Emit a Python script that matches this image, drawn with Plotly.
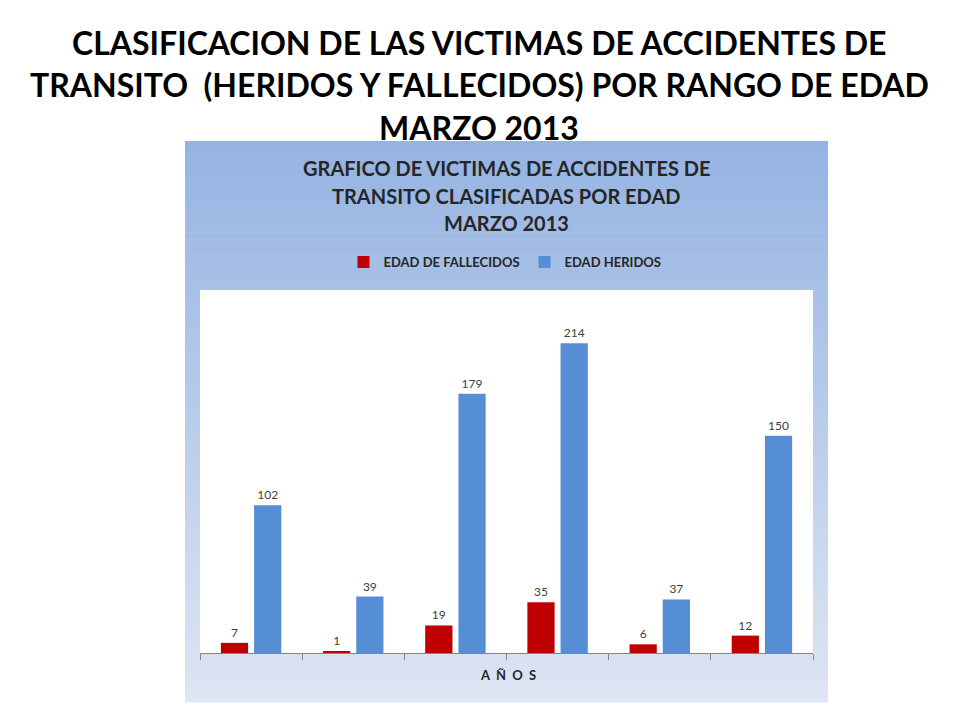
import plotly.graph_objects as go

categories = ["1", "2", "3", "4", "5", "6"]
fallecidos = [7, 1, 19, 35, 6, 12]
heridos = [102, 39, 179, 214, 37, 150]

series_names = ["EDAD DE FALLECIDOS", "EDAD HERIDOS"]
main_title = ["CLASIFICACION DE LAS VICTIMAS DE ACCIDENTES DE",
              "TRANSITO  (HERIDOS Y FALLECIDOS) POR RANGO DE EDAD",
              "MARZO 2013"]
chart_title = ["GRAFICO DE VICTIMAS DE ACCIDENTES DE",
               "TRANSITO CLASIFICADAS POR EDAD",
               "MARZO 2013"]
x_title = "A Ñ O S"

W, H = 960, 720
OFF = 8  # page offset of the figure in the browser
PL, PR, PT, PB = 200 - OFF, 813 - OFF, 290 - OFF, 653 - OFF


def px2x(px):
    return (px - OFF - PL) / (PR - PL)


def py2y(py):
    return (PB - (py - OFF)) / (PB - PT)


FONT = "Lato"

fig = go.Figure()
fig.add_trace(go.Bar(x=categories, y=fallecidos, name=series_names[0],
                     marker_color="#C00000", text=fallecidos,
                     textposition="outside", cliponaxis=False,
                     textfont=dict(size=12, color="#404040", family=FONT)))
fig.add_trace(go.Bar(x=categories, y=heridos, name=series_names[1],
                     marker_color="#558ED5", text=heridos,
                     textposition="outside", cliponaxis=False,
                     textfont=dict(size=12, color="#404040", family=FONT)))

# gradient background of chart area
shapes = []
top = (149, 179, 226)
bot = (222, 229, 243)
y0p, y1p = 141, 702
n = 80
for i in range(n):
    t = i / (n - 1)
    c = tuple(round(top[k] + (bot[k] - top[k]) * t) for k in range(3))
    a = y0p + (y1p - y0p) * i / n
    b = y0p + (y1p - y0p) * (i + 1) / n
    shapes.append(dict(type="rect", xref="paper", yref="paper",
                       x0=px2x(185), x1=px2x(828), y0=py2y(b + 0.6), y1=py2y(a),
                       fillcolor="rgb(%d,%d,%d)" % c, line=dict(width=0),
                       layer="below"))
shapes.append(dict(type="rect", xref="paper", yref="paper", x0=0, x1=1, y0=0, y1=1,
                   fillcolor="white", line=dict(width=0), layer="below"))

annotations = []
for i, line in enumerate(main_title):
    annotations.append(dict(text="<b>%s</b>" % line, xref="paper", yref="paper",
                            x=px2x(479), y=py2y(42 + 43 * i), showarrow=False,
                            xanchor="center", yanchor="middle",
                            font=dict(size=32, color="black", family=FONT)))
for i, line in enumerate(chart_title):
    annotations.append(dict(text="<b>%s</b>" % line, xref="paper", yref="paper",
                            x=px2x(506), y=py2y(168 + 27.5 * i), showarrow=False,
                            xanchor="center", yanchor="middle",
                            font=dict(size=20, color="#262626", family=FONT)))
annotations.append(dict(text="<b>%s</b>" % x_title.replace(" ", "&nbsp;&nbsp;"),
                        xref="paper", yref="paper",
                        x=px2x(508), y=py2y(675), showarrow=False,
                        xanchor="center", yanchor="middle",
                        font=dict(size=13, color="#262626", family=FONT)))

fig.update_layout(
    width=W, height=H,
    margin=dict(l=PL, r=W - PR, t=PT, b=H - PB, pad=0),
    paper_bgcolor="white", plot_bgcolor="white",
    barmode="group", bargap=0.35, bargroupgap=0.18,
    showlegend=True,
    legend=dict(orientation="h", x=px2x(505), xanchor="center",
                y=py2y(262), yanchor="middle", bgcolor="rgba(0,0,0,0)",
                font=dict(size=13, color="#262626", family=FONT),
                itemwidth=30, tracegroupgap=0),
    xaxis=dict(showticklabels=False, ticks="outside", tickson="boundaries",
               ticklen=6, tickcolor="#868686", showline=True,
               linecolor="#868686", linewidth=1, showgrid=False),
    yaxis=dict(range=[0, 250.7], visible=False, showgrid=False),
    shapes=shapes, annotations=annotations,
    font=dict(family=FONT),
)
fig.update_traces(marker_line_width=0)
fig.for_each_trace(lambda t: t.update(name="<b>%s</b>" % t.name))

fig.write_html("out.html")
